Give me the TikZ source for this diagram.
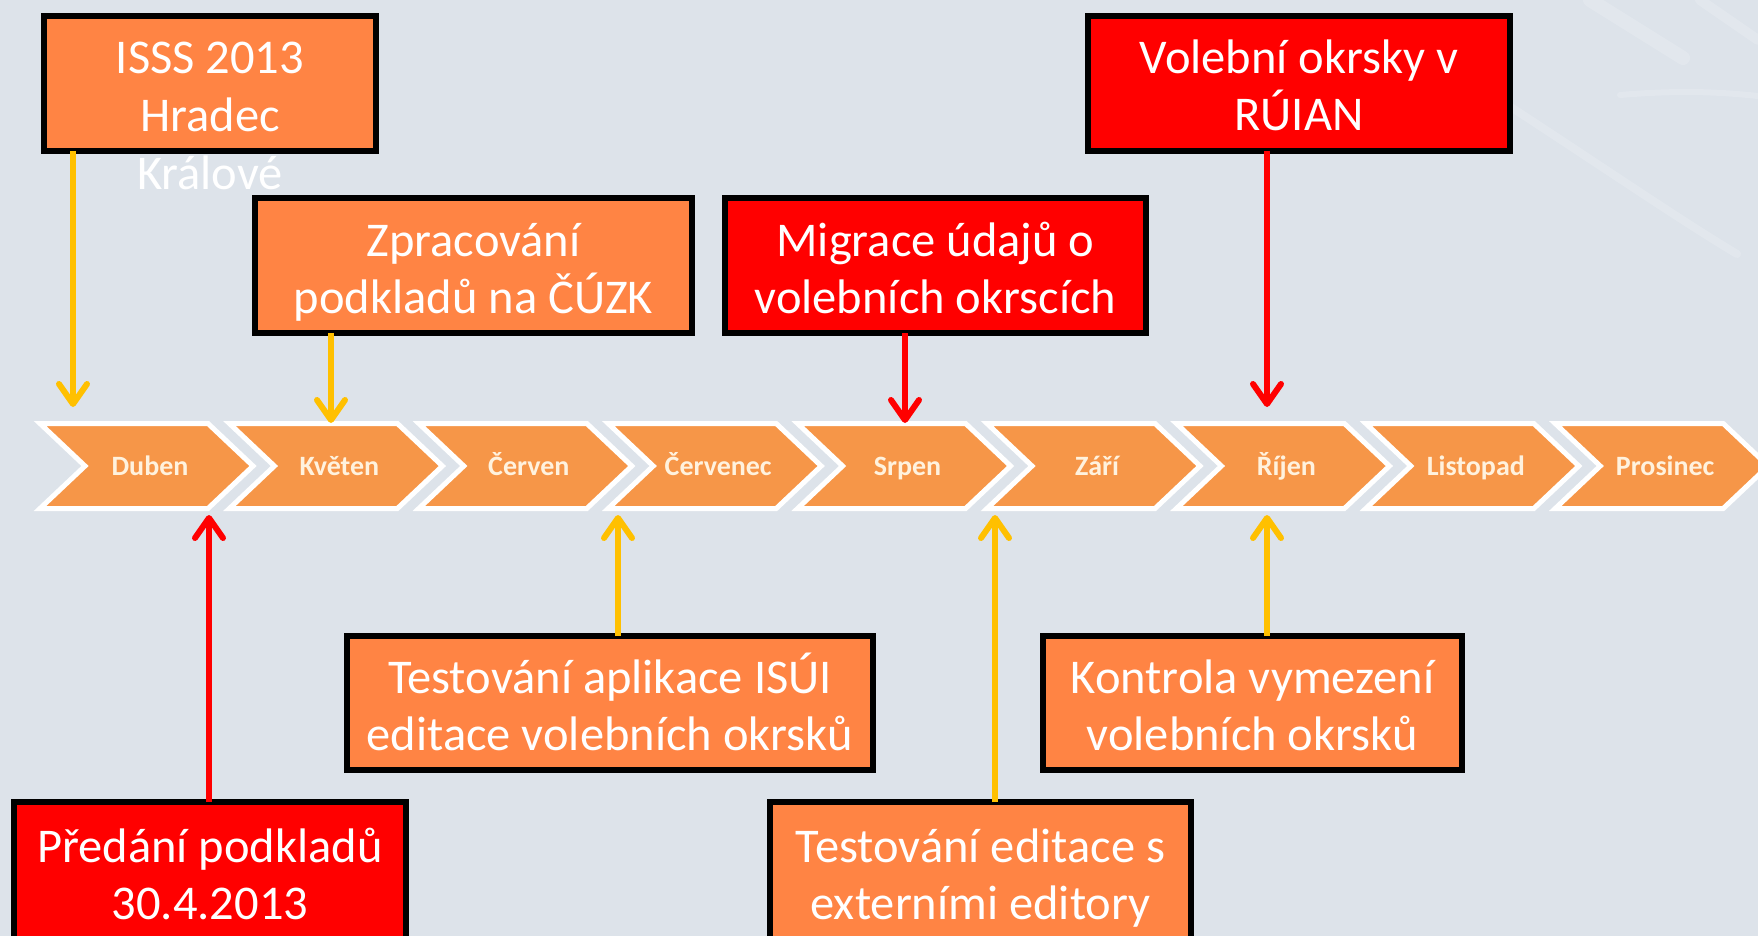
\documentclass[tikz,border=0pt]{standalone}
\usepackage{fontspec}
\setmainfont{Carlito}
\usetikzlibrary{arrows.meta}
\definecolor{bg}{RGB}{221,227,234}
\definecolor{boxorange}{RGB}{255,132,68}
\definecolor{boxred}{RGB}{255,0,0}
\definecolor{chev}{RGB}{246,150,72}
\definecolor{chevtext}{RGB}{255,242,222}
\definecolor{arrY}{RGB}{255,192,0}
\definecolor{arrR}{RGB}{255,0,0}
\newcommand{\topstrut}{\rule{0pt}{51pt}}
\newcommand{\botstrut}{\rule[-13pt]{0pt}{13pt}}
\begin{document}
\begin{tikzpicture}[x=1pt,y=-1pt,
  box/.style={draw=black, line width=6pt, inner sep=0pt, outer sep=0pt, text=white, align=center,
    font=\fontsize{48.5}{57}\selectfont},
  obox/.style={box, fill=boxorange},
  rbox/.style={box, fill=boxred},
  btext/.style={text=white, align=center, font=\fontsize{48.5}{58}\selectfont, inner sep=0pt},
  month/.style={text=chevtext, font=\fontsize{28}{30}\selectfont\bfseries, inner sep=0pt,
    text height=20pt, text depth=6pt},
  chevshape/.style={fill=chev, draw=white, line width=5pt, line join=miter},
  arr/.style={line width=6pt, -{Straight Barb[length=20pt, width=28pt, round]}},
  wm/.style={white, opacity=0.16, line cap=round}
]
\useasboundingbox (0,0) rectangle (1758,936);
\fill[bg] (0,0) rectangle (1758,936);
% faint watermark
\draw[wm, line width=8pt] (1500,100) .. controls (1600,165) and (1680,220) .. (1737,254);
\draw[wm, line width=14pt] (1590,0) -- (1683,58);
\draw[wm, line width=6pt] (1620,95) .. controls (1680,90) and (1720,92) .. (1758,96);
\draw[wm, line width=10pt] (1700,0) -- (1758,40);

% chevrons
\foreach \n [count=\i from 0] in {Duben,Květen,Červen,Červenec,Srpen,Září,Říjen,Listopad,Prosinec}{
  \pgfmathsetmacro{\L}{38+189.4*\i}
  \path[chevshape] ({\L+2},423.5) -- ({\L+170},423.5) -- ({\L+215},466) -- ({\L+170},508.5)
     -- ({\L+2},508.5) -- ({\L+47},466) -- cycle;
  \node[month] (m\i) at ({\L+112},468) {\n};
}

% boxes
\node[obox, minimum width=332pt, minimum height=135pt] (isss) at (210,83.5) {};
\node[btext] (isssT) at (210,116) {ISSS 2013\\Hradec\\Králové};
\node[obox, minimum width=437pt, minimum height=135pt] (zprac) at (473.5,265.5) {\topstrut Zpracování\\podkladů na ČÚZK\botstrut};
\node[rbox, minimum width=421pt, minimum height=135pt] (migr) at (935.5,265.5) {\topstrut Migrace údajů o\\volebních okrscích\botstrut};
\node[rbox, minimum width=422pt, minimum height=135pt] (vol) at (1299,83.5) {\topstrut Volební okrsky v\\RÚIAN\botstrut};
\node[obox, minimum width=526pt, minimum height=134pt] (tapl) at (610,703) {\topstrut Testování aplikace ISÚI\\editace volebních okrsků\botstrut};
\node[obox, minimum width=419pt, minimum height=134pt] (kontr) at (1252.5,703) {\topstrut Kontrola vymezení\\volebních okrsků\botstrut};
\node[rbox, minimum width=392pt, minimum height=140pt] (pred) at (210,872) {\topstrut Předání podkladů\\30.4.2013\botstrut};
\node[obox, minimum width=421pt, minimum height=140pt] (ted) at (980.5,872) {\topstrut Testování editace s\\externími editory\botstrut};

% arrow tips
\coordinate (tA) at (73,407);
\coordinate (tB) at (331,423);
\coordinate (tC) at (905,423);
\coordinate (tD) at (1267,407);
\coordinate (tE) at (209,515);
\coordinate (tF) at (618,515);
\coordinate (tG) at (995,515);
\coordinate (tH) at (1267,515);

\draw[arr, arrY] (isss.south -| tA) -- (tA);
\draw[arr, arrY] (zprac.south -| tB) -- (tB);
\draw[arr, arrR] (migr.south -| tC) -- (tC);
\draw[arr, arrR] (vol.south -| tD) -- (tD);
\draw[arr, arrR] (pred.north -| tE) -- (tE);
\draw[arr, arrY] (tapl.north -| tF) -- (tF);
\draw[arr, arrY] (ted.north -| tG) -- (tG);
\draw[arr, arrY] (kontr.north -| tH) -- (tH);
\end{tikzpicture}
\end{document}
